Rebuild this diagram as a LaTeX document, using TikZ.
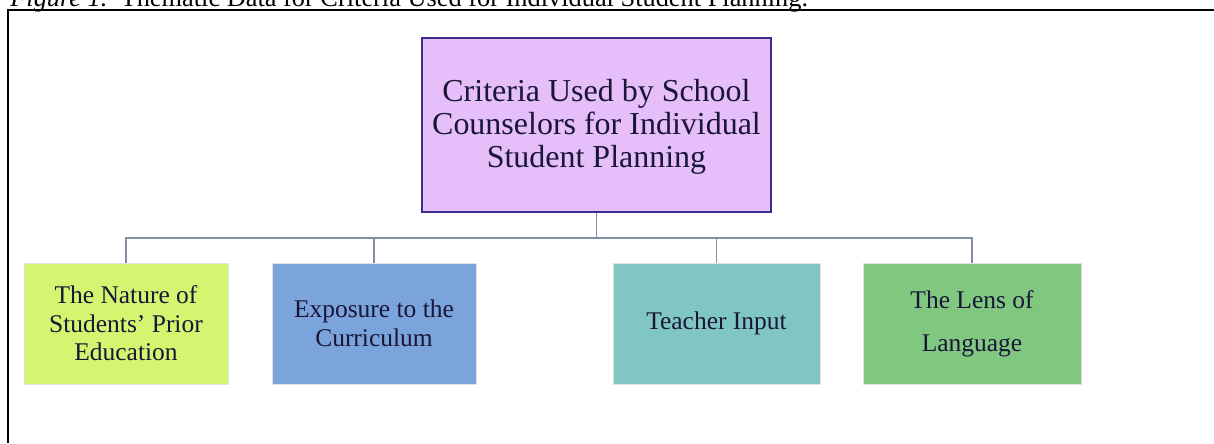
\documentclass[tikz,border=0pt]{standalone}
\usepackage{fontspec}
\setmainfont{Liberation Serif}
\usetikzlibrary{positioning}

\definecolor{critfill}{RGB}{230,190,250}
\definecolor{critdraw}{RGB}{60,45,140}
\definecolor{priorfill}{RGB}{212,245,112}
\definecolor{expofill}{RGB}{123,163,220}
\definecolor{teachfill}{RGB}{128,199,196}
\definecolor{lensfill}{RGB}{128,199,128}
\definecolor{linkgray}{RGB}{130,142,165}
\definecolor{txtdark}{RGB}{25,22,55}

\begin{document}
\begin{tikzpicture}

\tikzstyle{critbox}=[rectangle, draw=critdraw, line width=0.9pt, fill=critfill, text=txtdark, minimum width=6.98cm, minimum height=3.48cm, align=center, font=\fontsize{18.2}{19}\selectfont]
\tikzstyle{theme}=[rectangle, draw=black!12, line width=0.5pt, text=txtdark, minimum height=2.42cm, align=center, font=\fontsize{14.5}{16.3}\selectfont]
\tikzstyle{connect}=[draw=linkgray, line width=0.9pt]

\useasboundingbox (0,0) rectangle (24.28,8.86);
\clip (0,0) rectangle (24.28,8.86);

% caption, cut off at the top
\node[anchor=base west, inner sep=0pt, font=\fontsize{15}{18}\selectfont] (caption) at (0.2,8.72)
  {\textit{Figure 1.}\ \ Thematic Data for Criteria Used for Individual Student Planning.};

% frame
\coordinate (frametl) at (0.16,8.66);
\coordinate (frametr) at (24.28,8.66);
\coordinate (framebl) at (0.16,0);
\draw[line width=1.2pt] (framebl) -- (frametl) -- (frametr);

\node[critbox] (crit) at (11.93,6.36) {\\[-0.15cm]Criteria Used by School\\Counselors for Individual\\Student Planning};

\node[theme, fill=priorfill, minimum width=4.08cm] (prior) at (2.52,2.39) {The Nature of\\Students' Prior\\Education};
\node[theme, fill=expofill, minimum width=4.08cm] (expo) at (7.48,2.39) {Exposure to the\\Curriculum};
\node[theme, fill=teachfill, minimum width=4.14cm] (teach) at (14.33,2.39) {Teacher Input};
\node[theme, fill=lensfill, minimum width=4.36cm, font=\fontsize{14.5}{24.5}\selectfont] (lens) at (19.44,2.39) {The Lens of\\Language};

\coordinate (bar) at (11.93,4.1);

\draw[connect] (crit.south) -- (bar);
\draw[connect] (bar) -| (prior.north);
\draw[connect] (bar) -| (expo.north);
\draw[connect] (bar) -| (teach.north);
\draw[connect] (bar) -| (lens.north);

\end{tikzpicture}
\end{document}
